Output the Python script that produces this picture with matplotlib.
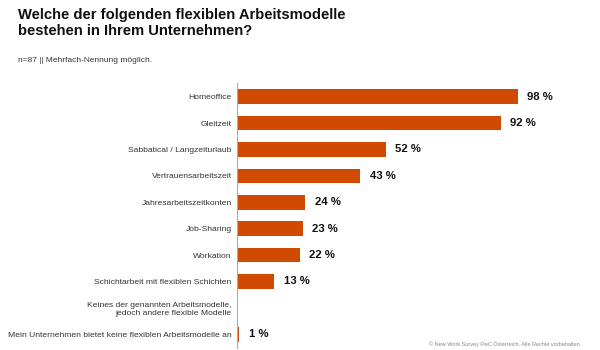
import matplotlib
matplotlib.use("Agg")
import matplotlib.pyplot as plt
import numpy as np

categories = [
    "Homeoffice",
    "Gleitzeit",
    "Sabbatical / Langzeiturlaub",
    "Vertrauensarbeitszeit",
    "Jahresarbeitszeitkonten",
    "Job-Sharing",
    "Workation",
    "Schichtarbeit mit flexiblen Schichten",
    "Keines der genannten Arbeitsmodelle,\njedoch andere flexible Modelle",
    "Mein Unternehmen bietet keine flexiblen Arbeitsmodelle an",
]
values = [98, 92, 52, 43, 24, 23, 22, 13, None, 1]

title = "Welche der folgenden flexiblen Arbeitsmodelle\nbestehen in Ihrem Unternehmen?"
subtitle = "n=87 || Mehrfach-Nennung möglich."
footer = "© New Work Survey PwC Österreich. Alle Rechte vorbehalten."

plt.rcParams["font.family"] = ["Liberation Sans", "DejaVu Sans"]

W, H = 600, 350
fig = plt.figure(figsize=(6, 3.5), dpi=100)
fig.patch.set_facecolor("white")

left_px, top_px, bottom_px = 236.5, 83.5, 347.5
xmax = 110
px_per_unit = 2.87
ax = fig.add_axes([left_px / W, 1 - bottom_px / H,
                   xmax * px_per_unit / W, (bottom_px - top_px) / H])

y = np.arange(len(categories))
vals = np.array([np.nan if v is None else v for v in values], dtype=float)
bar_color = "#D04A02"
ax.barh(y, np.nan_to_num(vals), height=0.56, color=bar_color, edgecolor="none")

for yi, v in zip(y, values):
    if v is None:
        continue
    ax.annotate(f"{v} %", xy=(v, yi), xytext=(7, 0), textcoords="offset points",
                va="center", ha="left", fontsize=8.2, fontweight="bold", color="#111111")

ax.set_xlim(0, xmax)
ax.set_ylim(len(categories) - 0.5, -0.5)
ax.set_yticks(y)
ax.set_yticklabels(categories, fontsize=6.1, color="#333333", ha="right",
                   linespacing=1.3)
ax.tick_params(axis="y", length=0, pad=3.5)
ax.set_xticks([])
for s in ["top", "right", "bottom"]:
    ax.spines[s].set_visible(False)
ax.spines["left"].set_color("#aaaaaa")
ax.spines["left"].set_linewidth(0.8)
ax.set_facecolor("none")

fig.text(18 / W, 1 - 8 / H, title, ha="left", va="top", fontsize=10.6,
         fontweight="bold", color="#111111", linespacing=1.15)
fig.text(18 / W, 1 - 60 / H, subtitle, ha="left", va="center", fontsize=6.0, color="#333333")
fig.text(581 / W, 1 - 344 / H, footer, ha="right", va="center", fontsize=4.0, color="#888888")

fig.savefig("out.png", dpi=100, facecolor="white")
